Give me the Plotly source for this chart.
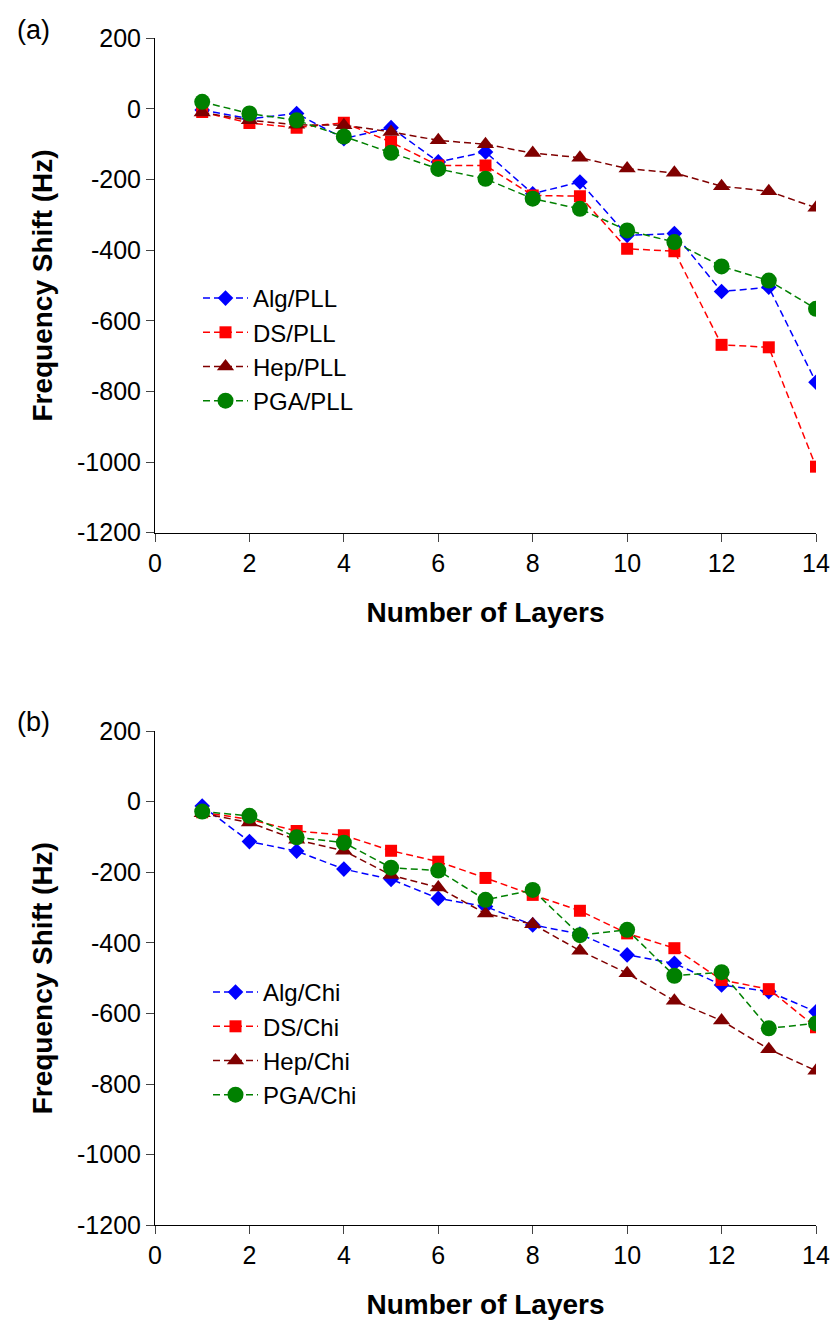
import plotly.graph_objects as go

# Layer number for every deposition step
layers = list(range(1, 15))

# (a) polyanion / PLL multilayers: frequency shift in Hz
alg_pll = [-3, -28, -13, -84, -53, -150, -122, -240, -207, -358, -353, -517, -505, -774]
ds_pll = [-9, -40, -53, -39, -94, -160, -160, -245, -247, -396, -403, -668, -675, -1013]
hep_pll = [-10, -32, -45, -46, -65, -89, -100, -125, -138, -169, -181, -219, -233, -280]
pga_pll = [20, -13, -32, -78, -124, -170, -198, -254, -283, -344, -377, -446, -486, -566]

# (b) polyanion / chitosan multilayers: frequency shift in Hz
alg_chi = [-12, -113, -140, -191, -220, -274, -297, -349, -375, -434, -458, -519, -538, -595]
ds_chi = [-30, -50, -83, -95, -139, -170, -216, -264, -309, -373, -415, -505, -531, -639]
hep_chi = [-33, -59, -108, -139, -208, -243, -317, -347, -422, -486, -564, -620, -701, -762]
pga_chi = [-28, -40, -101, -116, -187, -195, -278, -250, -378, -363, -493, -483, -642, -628]

names_pll = ["Alg/PLL", "DS/PLL", "Hep/PLL", "PGA/PLL"]
names_chi = ["Alg/Chi", "DS/Chi", "Hep/Chi", "PGA/Chi"]

y_ticks = [200, 0, -200, -400, -600, -800, -1000, -1200]
y_tick_text = ["200", "0", "-200", "-400", "-600", "-800", "-1000", "-1200"]
x_ticks = [0, 2, 4, 6, 8, 10, 12, 14]

colors = ["#0000FF", "#FF0000", "#800000", "#008000"]
symbols = ["diamond", "square", "triangle-up", "circle"]
sizes = [12, 12, 15, 16]

FONT = "Arial, 'Liberation Sans', sans-serif"
W, H = 833, 1320
ML, MR = 155, 17
PLOT_W = W - ML - MR

fig = go.Figure()

panels = [
    ([alg_pll, ds_pll, hep_pll, pga_pll], names_pll, "x", "y", "legend"),
    ([alg_chi, ds_chi, hep_chi, pga_chi], names_chi, "x2", "y2", "legend2"),
]
for series, names, xa, ya, leg in panels:
    for vals, name, col, sym, sz in zip(series, names, colors, symbols, sizes):
        fig.add_trace(go.Scatter(
            x=layers, y=vals, name=name, mode="lines+markers",
            xaxis=xa, yaxis=ya, legend=leg, legendgroup=name,
            line=dict(color=col, width=1.5, dash="7px,4px"),
            marker=dict(symbol=sym, size=sz, color=col, line=dict(width=0)),
        ))


def px_y(py):
    return 1 - py / H


def px_x(px):
    return (px - ML) / PLOT_W


axis_common = dict(
    showline=True, linecolor="black", linewidth=1,
    ticks="outside", ticklen=8, tickcolor="#444", tickwidth=1,
    showgrid=False, zeroline=False, automargin=False,
    tickfont=dict(family=FONT, size=25, color="black"),
)

x_common = dict(axis_common, range=[0, 14], tickvals=x_ticks,
                title=dict(text="<b>Number of Layers</b>",
                           font=dict(family=FONT, size=28, color="black"),
                           standoff=26))
y_common = dict(axis_common, range=[-1200, 200], tickvals=y_ticks,
                ticktext=y_tick_text,
                title=dict(text="<b>Frequency Shift (Hz)</b>",
                           font=dict(family=FONT, size=28, color="black"),
                           standoff=16))

top_dom = [px_y(532.7), px_y(38.3)]
bot_dom = [px_y(1225.3), px_y(731.1)]

legend_common = dict(
    font=dict(family=FONT, size=24, color="black"),
    bgcolor="rgba(0,0,0,0)", borderwidth=0,
    xanchor="left", yanchor="top",
    tracegroupgap=0, itemwidth=45,
)

fig.update_layout(
    width=W, height=H,
    margin=dict(l=ML, r=MR, t=0, b=0, autoexpand=False),
    paper_bgcolor="white", plot_bgcolor="white",
    font=dict(family=FONT, color="black"),
    xaxis=dict(x_common, domain=[0, 1], anchor="y"),
    yaxis=dict(y_common, domain=top_dom, anchor="x"),
    xaxis2=dict(x_common, domain=[0, 1], anchor="y2"),
    yaxis2=dict(y_common, domain=bot_dom, anchor="x2"),
    legend=dict(legend_common, x=px_x(198), y=px_y(276)),
    legend2=dict(legend_common, x=px_x(208), y=px_y(970)),
    annotations=[
        dict(text="(a)", x=px_x(15), y=px_y(30), xref="paper", yref="paper",
             xanchor="left", yanchor="middle", showarrow=False,
             font=dict(family=FONT, size=27, color="black")),
        dict(text="(b)", x=px_x(15), y=px_y(722), xref="paper", yref="paper",
             xanchor="left", yanchor="middle", showarrow=False,
             font=dict(family=FONT, size=27, color="black")),
    ],
)

fig.write_html("out.html")
